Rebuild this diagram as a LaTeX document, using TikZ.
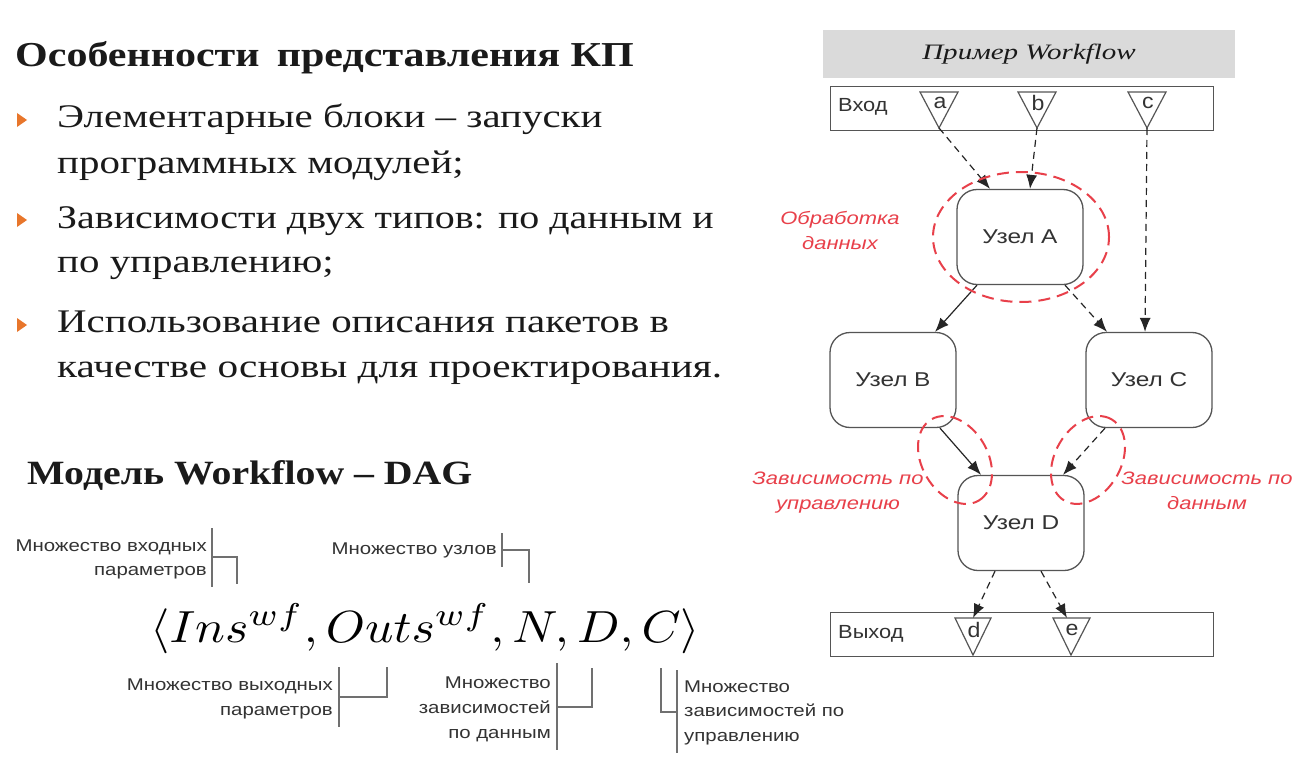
\documentclass[tikz,border=0pt]{standalone}
\usepackage{fontspec}
\setmainfont{Liberation Serif}
\newfontfamily\arialf{Liberation Sans}
\usepackage{graphicx}
\usetikzlibrary{arrows.meta}
\definecolor{bulorange}{HTML}{E8762B}
\definecolor{redlab}{HTML}{E8404A}
\definecolor{edgec}{HTML}{555555}
\definecolor{hdrgray}{HTML}{DADADA}
\definecolor{brk}{HTML}{707070}
\definecolor{txt}{HTML}{1A1A1A}
\newcommand{\hsc}[2]{\scalebox{#1}[1]{#2}}
\newcommand{\twol}[2]{\begin{tabular}{@{}c@{}}#1\\#2\end{tabular}}
\begin{document}
\begin{tikzpicture}[x=1pt,y=-1pt,
  titletext/.style={anchor=base west, inner sep=0pt, font=\bfseries\fontsize{35}{42}\selectfont, text=txt},
  bultext/.style={anchor=base west, inner sep=0pt, font=\fontsize{33}{40}\selectfont, text=txt},
  bulmark/.style={fill=bulorange, draw=none},
  wfnode/.style={draw=edgec, line width=1.3pt, rounded corners=20pt, minimum width=126pt, minimum height=95pt, inner sep=0pt, font=\arialf\fontsize{20}{24}\selectfont, text=black!80},
  portbox/.style={draw=edgec, line width=1.3pt, minimum width=383pt, minimum height=44pt, inner sep=0pt},
  porttext/.style={anchor=west, inner sep=0pt, font=\arialf\fontsize{19}{22}\selectfont, text=black!80},
  tri/.style={draw=edgec, line width=1.2pt, fill=white},
  trilab/.style={inner sep=0pt, font=\arialf\fontsize{21}{24}\selectfont, text=black!80},
  solidarr/.style={draw=black!85, line width=1.2pt, -{Latex[length=14pt,width=11pt]}},
  dasharr/.style={solidarr, dash pattern=on 7pt off 5pt},
  redell/.style={draw=redlab, line width=2pt, dash pattern=on 12pt off 7pt},
  redtext/.style={inner sep=0pt, font=\arialf\itshape\fontsize{18}{25.5}\selectfont, text=redlab},
  smalllab/.style={inner sep=0pt, font=\arialf\fontsize{17}{24.5}\selectfont, text=black!80},
  brkline/.style={draw=brk, line width=1.2pt}
]
\useasboundingbox (0,0) rectangle (1313,765);
\fill[white] (0,0) rectangle (1313,765);

% ---------- left text ----------
\node[titletext] (t1) at (15,67) {\hsc{1.2}{Особенности\, представления КП}};
\fill[bulmark] (17,113) -- (27,120) -- (17,127) -- cycle;
\node[bultext] (b1a) at (57,128) {\hsc{1.24}{Элементарные блоки – запуски}};
\node[bultext] (b1b) at (57,173) {\hsc{1.24}{программных модулей;}};
\fill[bulmark] (17,213) -- (27,220) -- (17,227) -- cycle;
\node[bultext] (b2a) at (57,228) {\hsc{1.21}{Зависимости двух типов: по данным и}};
\node[bultext] (b2b) at (57,272) {\hsc{1.24}{по управлению;}};
\fill[bulmark] (17,318) -- (27,325) -- (17,332) -- cycle;
\node[bultext] (b3a) at (57,332) {\hsc{1.24}{Использование описания пакетов в}};
\node[bultext] (b3b) at (57,377) {\hsc{1.25}{качестве основы для проектирования.}};
\node[titletext, font=\bfseries\fontsize{34}{40}\selectfont] (t2) at (27,484) {\hsc{1.17}{Модель Workflow – DAG}};

% ---------- formula ----------
\node[anchor=base west, inner sep=0pt] (f) at (150,642) {\scalebox{4.97}[4.5]{$\langle Ins^{wf},Outs^{wf},N,D,C\rangle$}};

\node[smalllab, anchor=base east] (l1a) at (207,551) {\hsc{1.2}{Множество входных}};
\node[smalllab, anchor=base east] (l1b) at (207,575) {\hsc{1.2}{параметров}};
\draw[brkline] (212,528) -- (212,587) (212,557) -- (237,557) -- (237,584);

\node[smalllab, anchor=base east] (l2) at (497,554) {\hsc{1.2}{Множество узлов}};
\draw[brkline] (502,533) -- (502,567) (502,550) -- (529,550) -- (529,583);

\node[smalllab, anchor=base east] (l3a) at (333,690) {\hsc{1.2}{Множество выходных}};
\node[smalllab, anchor=base east] (l3b) at (333,715) {\hsc{1.2}{параметров}};
\draw[brkline] (339,667) -- (339,727) (339,697) -- (387,697) -- (387,667);

\node[smalllab, anchor=base east] (l4a) at (551,688) {\hsc{1.2}{Множество}};
\node[smalllab, anchor=base east] (l4b) at (551,713) {\hsc{1.2}{зависимостей}};
\node[smalllab, anchor=base east] (l4c) at (551,738) {\hsc{1.2}{по данным}};
\draw[brkline] (557,663) -- (557,750) (557,707) -- (592,707) -- (592,668);

\node[smalllab, anchor=base west] (l5a) at (684,692) {\hsc{1.2}{Множество}};
\node[smalllab, anchor=base west] (l5b) at (684,716) {\hsc{1.2}{зависимостей по}};
\node[smalllab, anchor=base west] (l5c) at (684,741) {\hsc{1.2}{управлению}};
\draw[brkline] (677,670) -- (677,753) (661,668) -- (661,712) -- (677,712);

% ---------- right diagram ----------
\fill[hdrgray] (823,30) rectangle (1235,78);
\node[inner sep=0pt, font=\itshape\fontsize{22}{26}\selectfont, text=txt] (hdr) at (1029,54) {\hsc{1.32}{Пример Workflow}};

\node[portbox, anchor=north west] (in) at (830,86) {};
\node[porttext] (intext) at (838,107) {\hsc{1.15}{Вход}};
\draw[tri] (920,92) -- (958,92) -- (939,128) -- cycle;
\draw[tri] (1018,92) -- (1056,92) -- (1037,128) -- cycle;
\draw[tri] (1128,92) -- (1166,92) -- (1147,128) -- cycle;
\node[trilab] (la) at (940,103) {\hsc{1.1}{a}};
\node[trilab] (lb) at (1038,103) {\hsc{1.1}{b}};
\node[trilab] (lc) at (1148,103) {\hsc{1.1}{c}};
\coordinate (pa) at (939,128);
\coordinate (pb) at (1037,128);
\coordinate (pc) at (1147,128);

\node[wfnode] (A) at (1020,237) {\hsc{1.22}{Узел A}};
\node[wfnode] (B) at (893,380) {\hsc{1.22}{Узел B}};
\node[wfnode] (C) at (1149,380) {\hsc{1.22}{Узел C}};
\node[wfnode] (D) at (1021,523) {\hsc{1.22}{Узел D}};

\node[portbox, anchor=north west] (out) at (830,612) {};
\node[porttext] (outtext) at (838,634) {\hsc{1.15}{Выход}};
\draw[tri] (955,618) -- (991,618) -- (973,655) -- cycle;
\draw[tri] (1053,618) -- (1090,618) -- (1071,655) -- cycle;
\node[trilab] (ld) at (974,630) {\hsc{1.1}{d}};
\node[trilab] (le) at (1072,630) {\hsc{1.1}{e}};
\coordinate (pd) at (973,618);
\coordinate (pe) at (1067,618);

% connectors
\draw[dasharr] (pa) -- ([xshift=-30pt]A.north);
\draw[dasharr] (pb) -- ([xshift=10pt]A.north);
\draw[dasharr] (pc) -- ([xshift=-4pt]C.north);
\draw[solidarr] ([xshift=-43pt]A.south) -- ([xshift=42pt]B.north);
\draw[dasharr] ([xshift=45pt]A.south) -- ([xshift=-42pt]C.north);
\draw[solidarr] ([xshift=47pt]B.south) -- ([xshift=-40pt]D.north);
\draw[dasharr] ([xshift=-44pt]C.south) -- ([xshift=42pt]D.north);
\draw[dasharr] ([xshift=-26pt]D.south) -- (pd);
\draw[dasharr] ([xshift=20pt]D.south) -- (pe);

% red dashed ellipses
\draw[redell] (1021,237) ellipse [x radius=88pt, y radius=65pt];
\draw[redell, rotate around={-60:(955,460)}] (955,460) ellipse [x radius=47pt, y radius=33pt];
\draw[redell, rotate around={60:(1088,460)}] (1088,460) ellipse [x radius=47pt, y radius=33pt];

\node[redtext] (r1) at (840,232) {\hsc{1.22}{\twol{Обработка}{данных}}};
\node[redtext] (r2) at (838,492) {\hsc{1.22}{\twol{Зависимость по}{управлению}}};
\node[redtext] (r3) at (1207,492) {\hsc{1.22}{\twol{Зависимость по}{данным}}};
\end{tikzpicture}
\end{document}
